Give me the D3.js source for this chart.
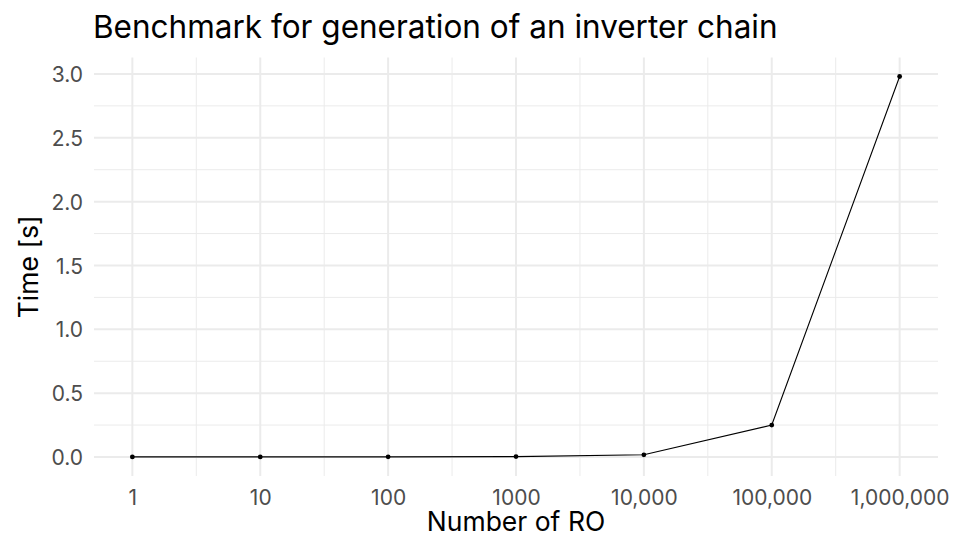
<!DOCTYPE html>
<html><head><meta charset="utf-8">
<script src="https://cdn.jsdelivr.net/npm/d3@7"></script>
<style>body{margin:0;background:#fff}svg{display:block}</style>
</head><body>
<svg id="c" width="954" height="535"></svg>
<script>
const counts = [1, 10, 100, 1000, 10000, 100000, 1000000];
const times = [0.0005, 0.0006, 0.001, 0.003, 0.017, 0.25, 2.98];
const xTickLabels = ["1", "10", "100", "1000", "10,000", "100,000", "1,000,000"];
const yTicks = [0, 0.5, 1.0, 1.5, 2.0, 2.5, 3.0];
const yMinor = [0.25, 0.75, 1.25, 1.75, 2.25, 2.75];
const xMinor = [Math.sqrt(10), Math.sqrt(1000), Math.sqrt(1e5), Math.sqrt(1e7), Math.sqrt(1e9), Math.sqrt(1e11)];

const font = "Inter, 'Noto Sans', sans-serif";
const svg = d3.select("#c");
const L = 94, R = 938, T = 57.5, B = 476;

const ex = 0.05 * 6;
const x = d3.scaleLog().domain([Math.pow(10, -ex), Math.pow(10, 6 + ex)]).range([L, R]);
const ymax = d3.max(times), ymin = 0;
const pad = 0.05 * (ymax - ymin);
const y = d3.scaleLinear().domain([ymin - pad, ymax + pad]).range([B, T]);

const g = svg.append("g");
g.selectAll(".ym").data(yMinor).join("line")
  .attr("x1", L).attr("x2", R).attr("y1", d => y(d)).attr("y2", d => y(d))
  .attr("stroke", "#EBEBEB").attr("stroke-width", 1);
g.selectAll(".xm").data(xMinor).join("line")
  .attr("y1", T).attr("y2", B).attr("x1", d => x(d)).attr("x2", d => x(d))
  .attr("stroke", "#EBEBEB").attr("stroke-width", 1);
g.selectAll(".yM").data(yTicks).join("line")
  .attr("x1", L).attr("x2", R).attr("y1", d => y(d)).attr("y2", d => y(d))
  .attr("stroke", "#EBEBEB").attr("stroke-width", 2);
g.selectAll(".xM").data(counts).join("line")
  .attr("y1", T).attr("y2", B).attr("x1", d => x(d)).attr("x2", d => x(d))
  .attr("stroke", "#EBEBEB").attr("stroke-width", 2);

const xAxis = d3.axisBottom(x).tickValues(counts).tickFormat((d, i) => xTickLabels[i]).tickSize(0).tickPadding(0);
const xa = svg.append("g").attr("transform", `translate(0,${B})`).call(xAxis);
xa.select(".domain").remove();
xa.selectAll("text").attr("y", 28.5).attr("dy", 0).attr("font-family", font).attr("font-size", 21).attr("fill", "#4D4D4D");

const yAxis = d3.axisLeft(y).tickValues(yTicks).tickFormat(d3.format(".1f")).tickSize(0).tickPadding(0);
const ya = svg.append("g").attr("transform", `translate(${L - 11},0)`).call(yAxis);
ya.select(".domain").remove();
ya.selectAll("text").attr("x", 0).attr("dy", "0.36em").attr("font-family", font).attr("font-size", 21).attr("fill", "#4D4D4D");

const line = d3.line().x((d, i) => x(counts[i])).y(d => y(d));
svg.append("path").datum(times).attr("d", line).attr("fill", "none").attr("stroke", "#000").attr("stroke-width", 1.1);
svg.selectAll(".pt").data(times).join("circle")
  .attr("cx", (d, i) => x(counts[i])).attr("cy", d => y(d)).attr("r", 2.4).attr("fill", "#000");

svg.append("text").attr("x", 93).attr("y", 37.5).text("Benchmark for generation of an inverter chain")
  .attr("font-family", font).attr("font-size", 31.5).attr("fill", "#000");
svg.append("text").attr("x", (L + R) / 2).attr("y", 530.5).attr("text-anchor", "middle").text("Number of RO")
  .attr("font-family", font).attr("font-size", 26.5).attr("fill", "#000");
svg.append("text").attr("transform", `translate(38,${(T + B) / 2}) rotate(-90)`).attr("text-anchor", "middle").text("Time [s]")
  .attr("font-family", font).attr("font-size", 26.5).attr("fill", "#000");
</script>
</body></html>
